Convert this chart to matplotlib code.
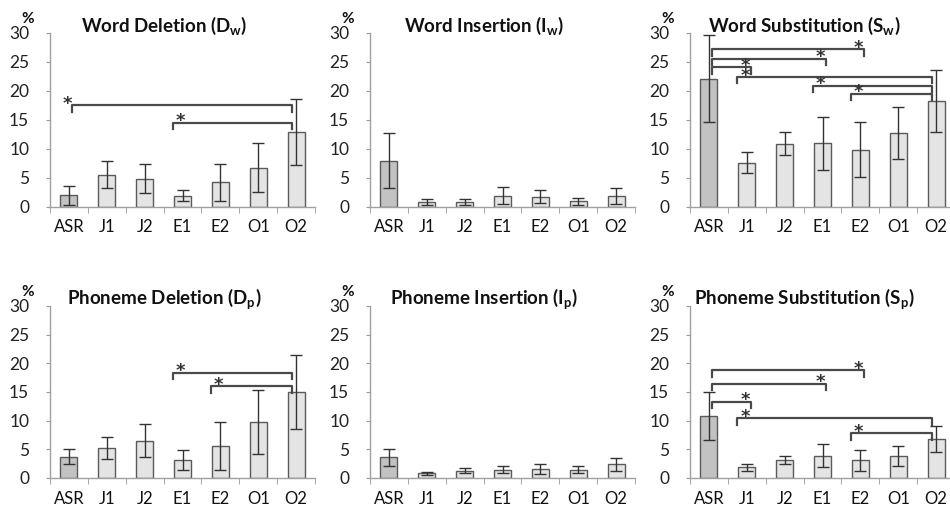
import numpy as np
import matplotlib
matplotlib.use("Agg")
import matplotlib.pyplot as plt

plt.rcParams['font.family'] = ['Lato', 'DejaVu Sans']
plt.rcParams['mathtext.fontset'] = 'custom'
plt.rcParams['mathtext.rm'] = 'Lato:bold'
plt.rcParams['mathtext.bf'] = 'Lato:bold'

cats = ["ASR", "J1", "J2", "E1", "E2", "O1", "O2"]

word_del = [2.0, 5.6, 4.9, 1.95, 4.25, 6.8, 13.0]
word_del_sd = [1.6, 2.4, 2.5, 1.0, 3.2, 4.3, 5.7]
word_ins = [8.0, 0.9, 0.85, 1.95, 1.8, 1.0, 1.95]
word_ins_sd = [4.7, 0.55, 0.45, 1.45, 1.05, 0.6, 1.35]
word_sub = [22.1, 7.6, 10.9, 11.0, 9.9, 12.8, 18.3]
word_sub_sd = [7.5, 1.8, 2.0, 4.6, 4.7, 4.5, 5.3]
ph_del = [3.7, 5.2, 6.5, 3.1, 5.6, 9.7, 15.0]
ph_del_sd = [1.3, 1.9, 2.9, 1.7, 4.2, 5.6, 6.5]
ph_ins = [3.6, 0.8, 1.3, 1.45, 1.55, 1.45, 2.4]
ph_ins_sd = [1.5, 0.25, 0.5, 0.6, 0.9, 0.6, 1.1]
ph_sub = [10.8, 1.9, 3.1, 3.9, 3.1, 3.8, 6.8]
ph_sub_sd = [4.2, 0.6, 0.7, 2.0, 1.8, 1.7, 2.3]

# significance brackets: (from, to, level, star above category)
word_del_sig = [(0, 6, 17.5, 0), (3, 6, 14.5, 3)]
word_sub_sig = [(0, 4, 27.2, 4), (0, 3, 25.6, 3), (0, 1, 24.1, 1),
                (1, 6, 22.4, 1), (3, 6, 20.9, 3), (4, 6, 19.5, 4)]
ph_del_sig = [(3, 6, 18.4, 3), (4, 6, 16.0, 4)]
ph_sub_sig = [(0, 4, 18.8, 4), (0, 3, 16.4, 3), (0, 1, 13.3, 1),
              (1, 6, 10.4, 1), (4, 6, 7.8, 4)]

panels = [
    ("Word Deletion (D$_\\mathrm{w}$)", word_del, word_del_sd, word_del_sig),
    ("Word Insertion (I$_\\mathrm{w}$)", word_ins, word_ins_sd, []),
    ("Word Substitution (S$_\\mathrm{w}$)", word_sub, word_sub_sd, word_sub_sig),
    ("Phoneme Deletion (D$_\\mathrm{p}$)", ph_del, ph_del_sd, ph_del_sig),
    ("Phoneme Insertion (I$_\\mathrm{p}$)", ph_ins, ph_ins_sd, []),
    ("Phoneme Substitution (S$_\\mathrm{p}$)", ph_sub, ph_sub_sd, ph_sub_sig),
]

W, H = 950, 509
fig = plt.figure(figsize=(W / 100, H / 100), dpi=100)

lefts = [50, 370, 690]
rows = [(207, 174), (478, 172)]  # zero line y px, height px
axw = 265

x = np.arange(len(cats))
for k, (title, vals, sd, sig) in enumerate(panels):
    r, c = divmod(k, 3)
    y0, h = rows[r]
    ax = fig.add_axes([lefts[c] / W, 1 - y0 / H, axw / W, h / H])
    colors = ['#c2c2c2'] + ['#e4e4e4'] * (len(cats) - 1)
    ax.bar(x, vals, width=0.45, color=colors, edgecolor='#5a5a5a', linewidth=1.0,
           yerr=sd, capsize=4.3, error_kw=dict(ecolor='#333333', elinewidth=1.0, capthick=1.0),
           zorder=2)
    for i, j, lev, s in sig:
        x1 = i + (0.08 if i == 0 else -0.25)
        x2 = j + (-0.1 if j == 6 else 0.1)
        ax.plot([x1, x1, x2, x2], [lev - 1.1, lev, lev, lev - 1.1],
                color='#4a4a4a', lw=1.6, zorder=3, solid_joinstyle='round')
        ax.text(s - 0.05, lev - 0.6, "*", ha='center', va='baseline',
                fontsize=13, fontweight='bold', color='#333333',
                family='DejaVu Sans', zorder=4)
    ax.set_xlim(-0.5, len(cats) - 0.5)
    ax.set_ylim(0, 30)
    ax.set_yticks(range(0, 31, 5))
    ax.set_xticks(x)
    ax.set_xticklabels(cats)
    ax.set_xticks(np.arange(-0.5, len(cats), 1.0), minor=True)
    ax.tick_params(axis='x', which='major', length=0, pad=9, labelsize=12,
                   labelcolor='#111111')
    ax.tick_params(axis='x', which='minor', length=4, color='#999999', direction='out')
    ax.tick_params(axis='y', length=3, color='#999999', pad=12, labelsize=12.5,
                   labelcolor='#222222')
    for sp in ['top', 'right']:
        ax.spines[sp].set_visible(False)
    for sp in ['left', 'bottom']:
        ax.spines[sp].set_color('#a0a0a0')
        ax.spines[sp].set_linewidth(1.0)
    ax.text(0.43, 1.04, title, transform=ax.transAxes, ha='center', va='center',
            fontsize=13.5, fontweight='bold', color='#111111')
    ax.text(-0.085, 1.08, "%", transform=ax.transAxes, ha='center', va='center',
            fontsize=11, fontweight='bold', color='#111111')

fig.savefig("out.png", dpi=100)
